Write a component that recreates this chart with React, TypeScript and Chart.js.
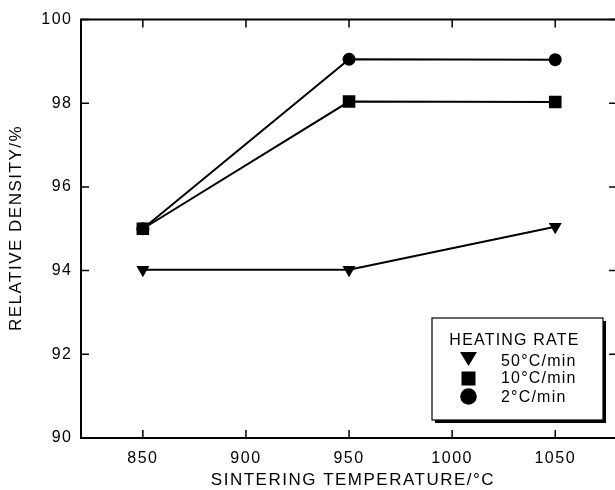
import { useEffect, useRef } from "react";
import { Chart, registerables } from "chart.js";

Chart.register(...registerables);

const TEMPERATURES = [850, 950, 1050];
const RATE_50 = [94.02, 94.02, 95.05];
const RATE_10 = [95.0, 98.04, 98.03];
const RATE_2 = [95.0, 99.05, 99.04];
const X_TICKS = [850, 900, 950, 1000, 1050];
const Y_TICKS = [90, 92, 94, 96, 98, 100];
const LEGEND_TITLE = "HEATING RATE";
const SERIES_LABELS = ["50°C/min", "10°C/min", "2°C/min"];
const X_TITLE = "SINTERING TEMPERATURE/°C";
const Y_TITLE = "RELATIVE DENSITY/%";

const FONT = '"Liberation Sans", Arial, Helvetica, sans-serif';
const SPACING = "1.5px";
const CANVAS_W = 626;
const CANVAS_H = 490;

const toPoints = (vals: number[]) => TEMPERATURES.map((x, i) => ({ x, y: vals[i] }));

const spacingPlugin = {
  id: "spacing",
  beforeLayout(chart: any) {
    chart.ctx.letterSpacing = SPACING;
  },
  beforeDraw(chart: any) {
    chart.ctx.letterSpacing = SPACING;
  },
};

const framePlugin = {
  id: "frame",
  afterDraw(chart: any) {
    const ctx = chart.ctx as CanvasRenderingContext2D;
    const { left, right, top, bottom } = chart.chartArea;
    const xs = chart.scales.x;
    const ys = chart.scales.y;
    ctx.save();
    ctx.strokeStyle = "#000";
    ctx.fillStyle = "#000";
    // frame
    ctx.lineWidth = 2;
    ctx.strokeRect(left, top, right - left, bottom - top);
    // inward ticks
    ctx.lineWidth = 1.5;
    const TL = 8;
    ctx.beginPath();
    X_TICKS.forEach((v) => {
      const px = xs.getPixelForValue(v);
      ctx.moveTo(px, bottom);
      ctx.lineTo(px, bottom - TL);
      ctx.moveTo(px, top);
      ctx.lineTo(px, top + TL);
    });
    Y_TICKS.forEach((v) => {
      const py = ys.getPixelForValue(v);
      ctx.moveTo(left, py);
      ctx.lineTo(left + TL, py);
      ctx.moveTo(right, py);
      ctx.lineTo(right - TL, py);
    });
    ctx.stroke();

    // axis titles
    (ctx as any).letterSpacing = "1.5px";
    ctx.font = `17px ${FONT}`;
    ctx.textAlign = "center";
    ctx.textBaseline = "alphabetic";
    ctx.fillText(X_TITLE, 353, 484.5);
    ctx.save();
    ctx.translate(20.7, 228);
    ctx.rotate(-Math.PI / 2);
    ctx.fillText(Y_TITLE, 0, 0);
    ctx.restore();

    // legend box
    const bx = 432, by = 318, bw = 171, bh = 102;
    ctx.fillRect(bx + 3, by + 3, bw, bh);
    ctx.fillStyle = "#fff";
    ctx.fillRect(bx, by, bw, bh);
    ctx.lineWidth = 1.2;
    ctx.strokeRect(bx, by, bw, bh);
    ctx.fillStyle = "#000";
    (ctx as any).letterSpacing = "1.2px";
    ctx.font = `16px ${FONT}`;
    ctx.textAlign = "center";
    ctx.fillText(LEGEND_TITLE, 514.5, 344.5);
    ctx.textAlign = "left";
    const baselines = [366, 383, 401.5];
    SERIES_LABELS.forEach((lab, i) => ctx.fillText(lab, 501, baselines[i]));
    // legend markers
    const mx = 468.5;
    ctx.beginPath();
    ctx.moveTo(mx - 8.5, 352);
    ctx.lineTo(mx + 8.5, 352);
    ctx.lineTo(mx, 366);
    ctx.closePath();
    ctx.fill();
    ctx.fillRect(mx - 7, 371.5, 14, 14);
    ctx.beginPath();
    ctx.arc(mx, 396.5, 8.3, 0, Math.PI * 2);
    ctx.fill();
    ctx.restore();
  },
};

export default function App() {
  const ref = useRef<HTMLCanvasElement>(null);
  useEffect(() => {
    if (!ref.current) return;
    const common = {
      borderColor: "#000",
      backgroundColor: "#000",
      pointBackgroundColor: "#000",
      pointBorderColor: "#000",
      pointBorderWidth: 0,
      borderWidth: 2,
      fill: false,
      tension: 0,
    };
    const chart = new Chart(ref.current, {
      type: "line",
      data: {
        datasets: [
          {
            ...common,
            label: SERIES_LABELS[0],
            data: toPoints(RATE_50),
            pointStyle: "triangle",
            pointRotation: 180,
            pointRadius: 7.5,
          },
          {
            ...common,
            label: SERIES_LABELS[1],
            data: toPoints(RATE_10),
            pointStyle: "rect",
            pointRadius: 8.9,
          },
          {
            ...common,
            label: SERIES_LABELS[2],
            data: toPoints(RATE_2),
            pointStyle: "circle",
            pointRadius: 6.5,
          },
        ],
      },
      options: {
        animation: false,
        responsive: false,
        devicePixelRatio: 1,
        layout: { padding: { left: 0, right: 0, top: 19.5, bottom: 0 } },
        plugins: {
          legend: { display: false },
          tooltip: { enabled: false },
          title: { display: false },
        },
        scales: {
          x: {
            type: "linear",
            min: 820,
            max: 1080,
            grid: { display: false, drawTicks: false },
            border: { display: false },
            afterBuildTicks: (s: any) => {
              s.ticks = X_TICKS.map((v) => ({ value: v }));
            },
            afterFit: (s: any) => {
              s.height = 52;
            },
            ticks: {
              color: "#000",
              font: { family: FONT, size: 16 },
              padding: 10.5,
              maxRotation: 0,
              autoSkip: false,
              callback: (v: any) => String(v),
            },
          },
          y: {
            type: "linear",
            min: 90,
            max: 100,
            grid: { display: false, drawTicks: false },
            border: { display: false },
            afterBuildTicks: (s: any) => {
              s.ticks = Y_TICKS.map((v) => ({ value: v }));
            },
            afterFit: (s: any) => {
              s.width = 81;
            },
            ticks: {
              color: "#000",
              font: { family: FONT, size: 16 },
              padding: 8.5,
              autoSkip: false,
              callback: (v: any) => String(v),
            },
          },
        },
      },
      plugins: [spacingPlugin, framePlugin],
    } as any);
    return () => chart.destroy();
  }, []);
  return (
    <canvas
      ref={ref}
      width={CANVAS_W}
      height={CANVAS_H}
      style={{ position: "fixed", left: 0, top: 0, width: CANVAS_W, height: CANVAS_H }}
    />
  );
}
